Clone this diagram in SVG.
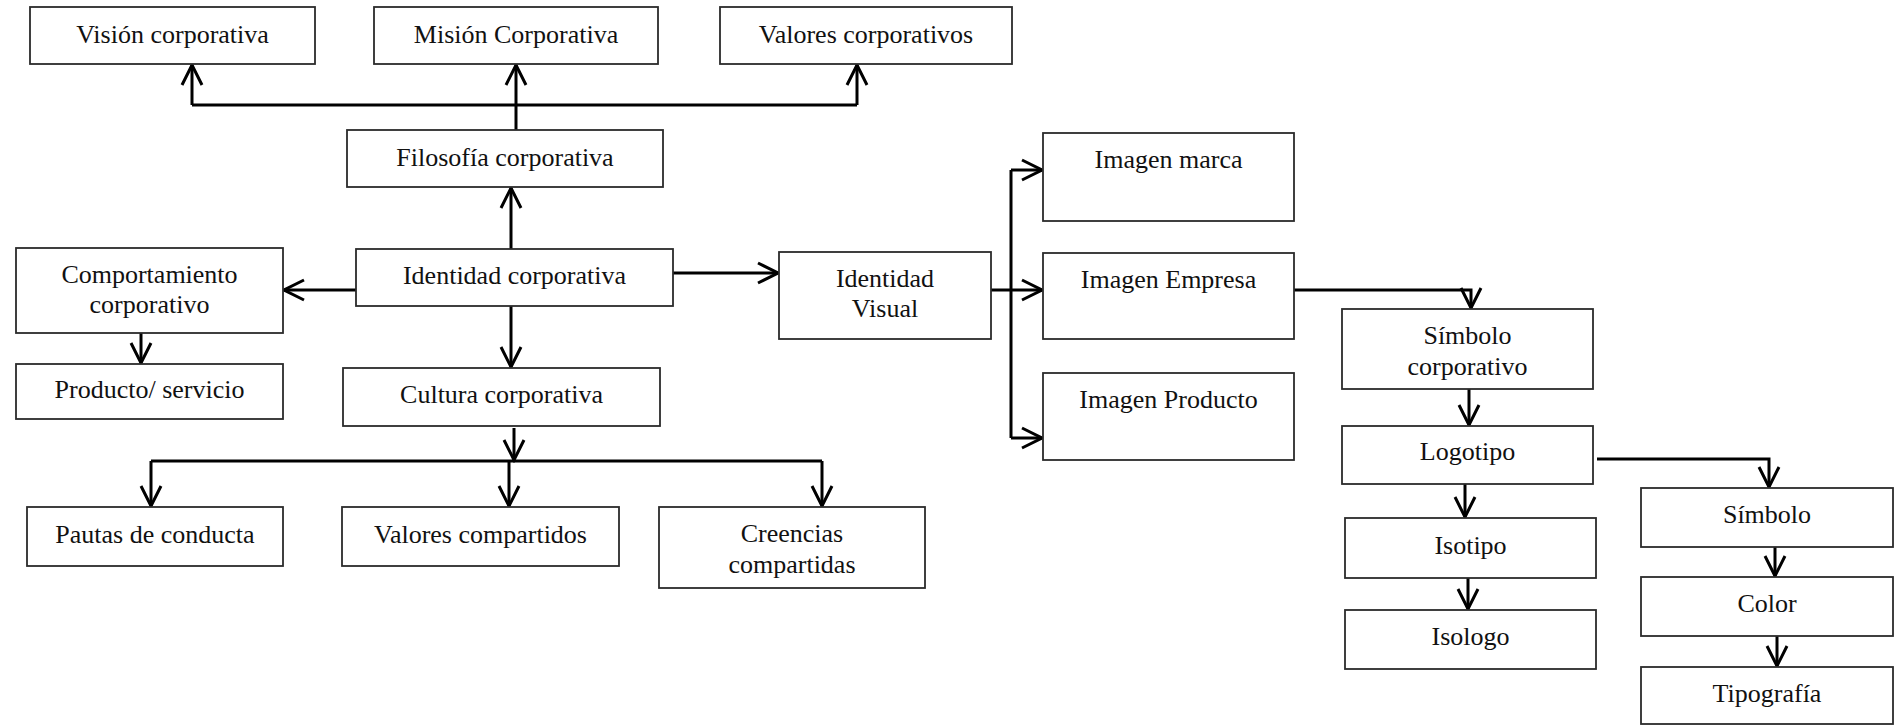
<svg xmlns="http://www.w3.org/2000/svg" width="1899" height="727" viewBox="0 0 1899 727">
  <style>
    .box { fill: #ffffff; stroke: #2b2b2b; stroke-width: 1.8; }
    .lbl { font-family: "Liberation Serif", "Times New Roman", serif; font-size: 26px; fill: #111111; text-anchor: middle; }
    .wire { fill: none; stroke: #000000; stroke-width: 3; }
    .arr { fill: none; stroke: #000000; stroke-width: 3; marker-end: url(#head); }
  </style>
  <defs>
    <marker id="head" markerUnits="userSpaceOnUse" viewBox="-23 -12 26 24" markerWidth="26" markerHeight="24" refX="0" refY="0" orient="auto">
      <path d="M-20,-10 L0,0 L-20,10" fill="none" stroke="#000000" stroke-width="3"/>
    </marker>
  </defs>
  <rect width="1899" height="727" fill="#ffffff"/>

  <!-- connectors -->
  <g id="connectors">
    <!-- philosophy to its three branches -->
    <path class="wire" d="M192,105 H857"/>
    <path class="arr" d="M516,130 V65"/>
    <path class="arr" d="M192,105 V65"/>
    <path class="arr" d="M857,105 V65"/>
    <!-- corporate identity -->
    <path class="arr" d="M511,249 V188"/>
    <path class="arr" d="M511,306 V367"/>
    <path class="arr" d="M356,290 H284"/>
    <path class="arr" d="M673,273 H778"/>
    <path class="arr" d="M141,333 V363"/>
    <!-- corporate culture -->
    <path class="arr" d="M514,428 V460"/>
    <path class="wire" d="M151,461 H822"/>
    <path class="arr" d="M151,461 V506"/>
    <path class="arr" d="M509,461 V506"/>
    <path class="arr" d="M822,461 V506"/>
    <!-- visual identity -->
    <path class="wire" d="M1011,170 V438"/>
    <path class="arr" d="M991,290 H1042"/>
    <path class="arr" d="M1011,170 H1042"/>
    <path class="arr" d="M1011,438 H1042"/>
    <!-- company image down the symbol chain -->
    <path class="arr" d="M1294,290 H1471 V308"/>
    <path class="arr" d="M1469,389 V425"/>
    <path class="arr" d="M1465,484 V517"/>
    <path class="arr" d="M1468,578 V609"/>
    <path class="arr" d="M1597,459 H1769 V487"/>
    <path class="arr" d="M1775,547 V576"/>
    <path class="arr" d="M1777,636 V666"/>
  </g>

  <g id="vision">
    <rect class="box" x="30" y="7" width="285" height="57"/>
    <text class="lbl" x="172.5" y="43">Visión corporativa</text>
  </g>
  <g id="mision">
    <rect class="box" x="374" y="7" width="284" height="57"/>
    <text class="lbl" x="516" y="43">Misión Corporativa</text>
  </g>
  <g id="valores-corporativos">
    <rect class="box" x="720" y="7" width="292" height="57"/>
    <text class="lbl" x="866" y="43">Valores corporativos</text>
  </g>
  <g id="filosofia">
    <rect class="box" x="347" y="130" width="316" height="57"/>
    <text class="lbl" x="505" y="165.5">Filosofía corporativa</text>
  </g>
  <g id="identidad-corporativa">
    <rect class="box" x="356" y="249" width="317" height="57"/>
    <text class="lbl" x="514.5" y="284">Identidad corporativa</text>
  </g>
  <g id="comportamiento">
    <rect class="box" x="16" y="248" width="267" height="85"/>
    <text class="lbl" x="149.5" y="283">Comportamiento</text>
    <text class="lbl" x="149.5" y="312.5">corporativo</text>
  </g>
  <g id="producto-servicio">
    <rect class="box" x="16" y="364" width="267" height="55"/>
    <text class="lbl" x="149.5" y="398">Producto/ servicio</text>
  </g>
  <g id="cultura">
    <rect class="box" x="343" y="368" width="317" height="58"/>
    <text class="lbl" x="501.5" y="403">Cultura corporativa</text>
  </g>
  <g id="pautas">
    <rect class="box" x="27" y="507" width="256" height="59"/>
    <text class="lbl" x="155" y="543">Pautas de conducta</text>
  </g>
  <g id="valores-compartidos">
    <rect class="box" x="342" y="507" width="277" height="59"/>
    <text class="lbl" x="480.5" y="543">Valores compartidos</text>
  </g>
  <g id="creencias">
    <rect class="box" x="659" y="507" width="266" height="81"/>
    <text class="lbl" x="792" y="541.5">Creencias</text>
    <text class="lbl" x="792" y="573">compartidas</text>
  </g>
  <g id="identidad-visual">
    <rect class="box" x="779" y="252" width="212" height="87"/>
    <text class="lbl" x="885" y="287">Identidad</text>
    <text class="lbl" x="885" y="317">Visual</text>
  </g>
  <g id="imagen-marca">
    <rect class="box" x="1043" y="133" width="251" height="88"/>
    <text class="lbl" x="1168.5" y="168">Imagen marca</text>
  </g>
  <g id="imagen-empresa">
    <rect class="box" x="1043" y="253" width="251" height="86"/>
    <text class="lbl" x="1168.5" y="288">Imagen Empresa</text>
  </g>
  <g id="imagen-producto">
    <rect class="box" x="1043" y="373" width="251" height="87"/>
    <text class="lbl" x="1168.5" y="408">Imagen Producto</text>
  </g>
  <g id="simbolo-corporativo">
    <rect class="box" x="1342" y="309" width="251" height="80"/>
    <text class="lbl" x="1467.5" y="344">Símbolo</text>
    <text class="lbl" x="1467.5" y="375">corporativo</text>
  </g>
  <g id="logotipo">
    <rect class="box" x="1342" y="426" width="251" height="58"/>
    <text class="lbl" x="1467.5" y="460">Logotipo</text>
  </g>
  <g id="isotipo">
    <rect class="box" x="1345" y="518" width="251" height="60"/>
    <text class="lbl" x="1470.5" y="554">Isotipo</text>
  </g>
  <g id="isologo">
    <rect class="box" x="1345" y="610" width="251" height="59"/>
    <text class="lbl" x="1470.5" y="645">Isologo</text>
  </g>
  <g id="simbolo">
    <rect class="box" x="1641" y="488" width="252" height="59"/>
    <text class="lbl" x="1767" y="523">Símbolo</text>
  </g>
  <g id="color">
    <rect class="box" x="1641" y="577" width="252" height="59"/>
    <text class="lbl" x="1767" y="612">Color</text>
  </g>
  <g id="tipografia">
    <rect class="box" x="1641" y="667" width="252" height="57"/>
    <text class="lbl" x="1767" y="702">Tipografía</text>
  </g>
</svg>
